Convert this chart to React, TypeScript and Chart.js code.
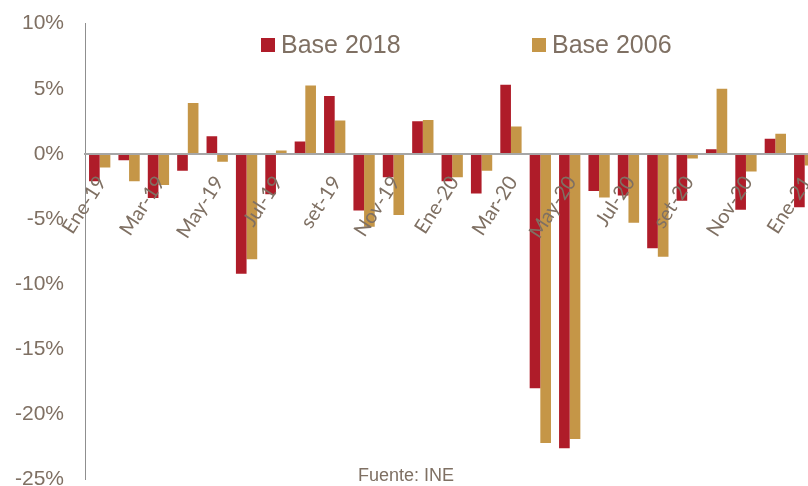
import React, { useEffect, useRef } from "react";
import { Chart, registerables } from "chart.js";

Chart.register(...registerables);

const categories = [
  "Ene-19", "Feb-19", "Mar-19", "Abr-19", "May-19", "Jun-19", "Jul-19", "Ago-19", "set-19", "Oct-19", "Nov-19", "Dic-19",
  "Ene-20", "Feb-20", "Mar-20", "Abr-20", "May-20", "Jun-20", "Jul-20", "Ago-20", "set-20", "Oct-20", "Nov-20", "Dic-20",
  "Ene-21",
];
const base2018 = [-2.1, -0.5, -3.4, -1.3, 1.35, -9.2, -3.1, 0.95, 4.45, -4.35, -1.8, 2.5, -2.1, -3.05, 5.3, -18.0, -22.6, -2.85, -3.2, -7.25, -3.6, 0.35, -4.3, 1.15, -4.1];
const base2006 = [-1.05, -2.1, -2.4, 3.9, -0.6, -8.1, 0.25, 5.25, 2.55, -5.6, -4.7, 2.6, -1.8, -1.3, 2.1, -22.2, -21.9, -3.35, -5.3, -7.9, -0.35, 5.0, -1.35, 1.55, -0.9];
const seriesNames = ["Base 2018", "Base 2006"];
const sourceText = "Fuente: INE";

const RED = "#AF1C29";
const GOLD = "#C59647";
const TEXT = "#7f7063";
const SHIFT = 10; // canvas is moved up by this many px inside the clipped frame

const overlayPlugin = {
  id: "overlay",
  afterDraw(chart: any) {
    const ctx = chart.ctx;
    ctx.save();
    ctx.translate(0, SHIFT);
    ctx.font = "25px 'Liberation Sans', Arial, sans-serif";
    ctx.textBaseline = "alphabetic";
    ctx.textAlign = "left";
    const items = [
      { x: 261, color: RED, text: seriesNames[0] },
      { x: 532, color: GOLD, text: seriesNames[1] },
    ];
    items.forEach((it) => {
      ctx.fillStyle = it.color;
      ctx.fillRect(it.x, 38, 14, 14);
      ctx.fillStyle = TEXT;
      ctx.fillText(it.text, it.x + 20, 53);
    });
    ctx.font = "18px 'Liberation Sans', Arial, sans-serif";
    ctx.fillStyle = TEXT;
    ctx.fillText(sourceText, 358, 481);
    ctx.restore();
  },
};

export default function App() {
  const ref = useRef<HTMLCanvasElement>(null);
  useEffect(() => {
    const chart = new Chart(ref.current as HTMLCanvasElement, {
      type: "bar",
      data: {
        labels: categories,
        datasets: [
          { label: seriesNames[0], data: base2018, backgroundColor: RED, barPercentage: 1.0, categoryPercentage: 0.725 },
          { label: seriesNames[1], data: base2006, backgroundColor: GOLD, barPercentage: 1.0, categoryPercentage: 0.725 },
        ],
      },
      options: {
        animation: false,
        responsive: false,
        events: [],
        layout: { padding: { left: 0, right: 8, top: 3, bottom: 5 } },
        plugins: { legend: { display: false }, tooltip: { enabled: false } },
        scales: {
          x: {
            position: { y: 0 } as any,
            grid: { display: false, drawTicks: false },
            border: { display: true, color: "#a6a6a6", width: 2, z: 1 },
            ticks: {
              z: 1,
              autoSkip: false,
              maxRotation: 57,
              minRotation: 57,
              padding: 18,
              labelOffset: 2,
              color: TEXT,
              font: { family: "Lato, 'Liberation Sans', sans-serif", size: 20 },
              callback: (_v: any, i: number) => (i % 2 === 0 ? categories[i] : ""),
            },
          },
          y: {
            min: -25,
            max: 10,
            grid: { display: false, drawTicks: false },
            border: { display: true, color: "#8f8f8f", width: 1 },
            afterFit: (s: any) => {
              s.width = 85;
            },
            ticks: {
              stepSize: 5,
              padding: 21,
              color: TEXT,
              font: { family: "'Liberation Sans', Arial, sans-serif", size: 21 },
              callback: (v: any) => `${v}%`,
            },
          },
        },
      },
      plugins: [overlayPlugin],
    });
    return () => chart.destroy();
  }, []);
  return (
    <div style={{ position: "fixed", left: 0, top: 0, width: 808, height: 486, overflow: "hidden", background: "#fff" }}>
      <canvas ref={ref} width={843} height={523} style={{ display: "block", marginTop: -SHIFT }} />
    </div>
  );
}
